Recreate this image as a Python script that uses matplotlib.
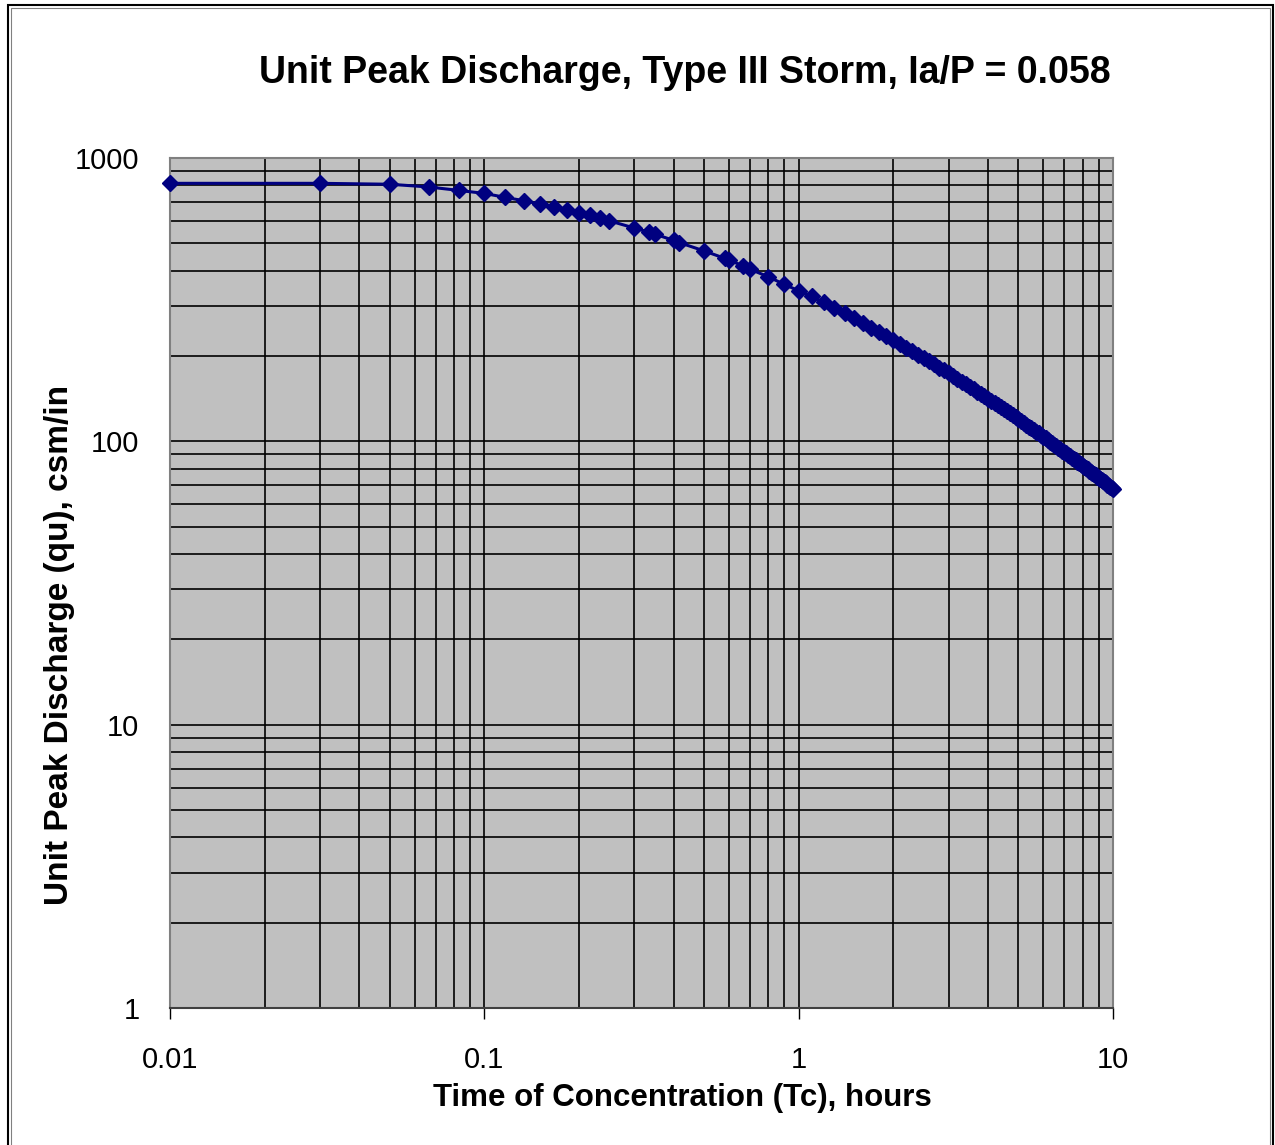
import matplotlib
matplotlib.use('Agg')
import matplotlib.pyplot as plt
from matplotlib.ticker import LogLocator, NullFormatter
from matplotlib.patches import Rectangle

plt.rcParams['font.family'] = ['Liberation Sans', 'DejaVu Sans']

# time of concentration (hours) and unit peak discharge (csm/in)
tc_hours = [0.01, 0.03, 0.05, 0.0667, 0.0833, 0.1, 0.1167, 0.1333, 0.15, 0.1667,
            0.1833, 0.2, 0.2167, 0.2333, 0.25, 0.3, 0.3333, 0.35, 0.4, 0.4167,
            0.5, 0.5833, 0.6, 0.6667, 0.7, 0.8, 0.9,
            1.0, 1.1, 1.2, 1.3, 1.4, 1.5, 1.6, 1.7, 1.8, 1.9,
            2.0, 2.1, 2.2, 2.3, 2.4, 2.5, 2.6, 2.7, 2.8, 2.9,
            3.0, 3.1, 3.2, 3.3, 3.4, 3.5, 3.6, 3.7, 3.8, 3.9,
            4.0, 4.1, 4.2, 4.3, 4.4, 4.5, 4.6, 4.7, 4.8, 4.9,
            5.0, 5.1, 5.2, 5.3, 5.4, 5.5, 5.6, 5.7, 5.8, 5.9,
            6.0, 6.1, 6.2, 6.3, 6.4, 6.5, 6.6, 6.7, 6.8, 6.9,
            7.0, 7.1, 7.2, 7.3, 7.4, 7.5, 7.6, 7.7, 7.8, 7.9,
            8.0, 8.1, 8.2, 8.3, 8.4, 8.5, 8.6, 8.7, 8.8, 8.9,
            9.0, 9.1, 9.2, 9.3, 9.4, 9.5, 9.6, 9.7, 9.8, 9.9, 10.0]

qu = [814, 814, 808, 790, 768, 750, 726, 707, 688, 670,
      655, 641, 629, 613, 600, 566, 548, 538, 512, 503,
      470, 442, 436, 416, 405, 381, 358,
      340, 324.8, 309.3, 295.5, 283.1, 271.8, 261.5, 251.9, 243.2, 235.1,
      227.6, 220.6, 214.1, 207.9, 202.2, 196.8, 191.6, 186.8, 182.2, 177.9,
      173.8, 169.9, 166.1, 162.6, 159.1, 155.8, 152.8, 149.8, 146.9, 144.1,
      141.5, 138.9, 136.5, 134.1, 131.8, 129.6, 127.5, 125.4, 123.4, 121.5,
      119.6, 117.8, 116.1, 114.4, 112.7, 111.1, 109.6, 108.1, 106.6, 105.1,
      103.8, 102.4, 101.1, 99.8, 98.6, 97.3, 96.1, 95.0, 93.8, 92.7,
      91.7, 90.6, 89.6, 88.6, 87.6, 86.6, 85.7, 84.8, 83.9, 83.0,
      82.1, 81.3, 80.4, 79.6, 78.8, 78.0, 77.3, 76.5, 75.8, 75.1,
      74.3, 73.6, 73.0, 72.3, 71.6, 71.0, 70.4, 69.7, 69.1, 68.5, 67.9]

x_ticks = [0.01, 0.1, 1, 10]
x_labels = ['0.01', '0.1', '1', '10']
y_ticks = [1, 10, 100, 1000]
y_labels = ['1', '10', '100', '1000']

fig = plt.figure(figsize=(12.75, 11.45), dpi=100)
ax = fig.add_axes([170/1275, 1 - 1008/1145, (1113-170)/1275, (1008-158)/1145])
ax.set_facecolor('#C0C0C0')

ax.plot(tc_hours, qu, color='#000080', linewidth=2.2, marker='D',
        markersize=8.5, markerfacecolor='#000080', markeredgecolor='#000080',
        clip_on=False, zorder=3)

ax.set_xscale('log')
ax.set_yscale('log')
ax.set_xlim(0.01, 10)
ax.set_ylim(1, 1000)

ax.set_xticks(x_ticks)
ax.set_xticklabels(x_labels)
ax.set_yticks(y_ticks)
ax.set_yticklabels(y_labels)
ax.xaxis.set_minor_locator(LogLocator(base=10, subs=range(2, 10)))
ax.yaxis.set_minor_locator(LogLocator(base=10, subs=range(2, 10)))
ax.xaxis.set_minor_formatter(NullFormatter())
ax.yaxis.set_minor_formatter(NullFormatter())

ax.grid(which='both', color='black', linewidth=1.2)
ax.set_axisbelow(True)

ax.tick_params(axis='x', which='major', length=8, width=1, pad=19, labelsize=21)
ax.tick_params(axis='y', which='major', length=0, pad=22, labelsize=21)
ax.tick_params(which='minor', length=0)

for side in ['top', 'right', 'left']:
    ax.spines[side].set_color('#808080')
    ax.spines[side].set_linewidth(1.5)
ax.spines['bottom'].set_color('#404040')
ax.spines['bottom'].set_linewidth(1.5)

fig.text(685/1275, 1 - 83/1145, 'Unit Peak Discharge, Type III Storm, Ia/P = 0.058',
         fontsize=27, fontweight='bold', ha='center', va='baseline')
fig.text(682/1275, 1 - 1106/1145, 'Time of Concentration (Tc), hours',
         fontsize=22.5, fontweight='bold', ha='center', va='baseline')
fig.text(60/1275, 1 - 645/1145, 'Unit Peak Discharge (qu), csm/in',
         fontsize=24, fontweight='bold', ha='center', va='center', rotation=90)

# outer frame of the chart area
fig.patches.append(Rectangle((8/1275, -0.01), (1273-8)/1275, 1.01 - 5/1145,
                             transform=fig.transFigure, fill=False,
                             edgecolor='black', linewidth=1.5))
fig.patches.append(Rectangle((11/1275, -0.01), (1270-11)/1275, 1.01 - 8/1145,
                             transform=fig.transFigure, fill=False,
                             edgecolor='#808080', linewidth=0.8))

fig.savefig('out.png', dpi=100)
